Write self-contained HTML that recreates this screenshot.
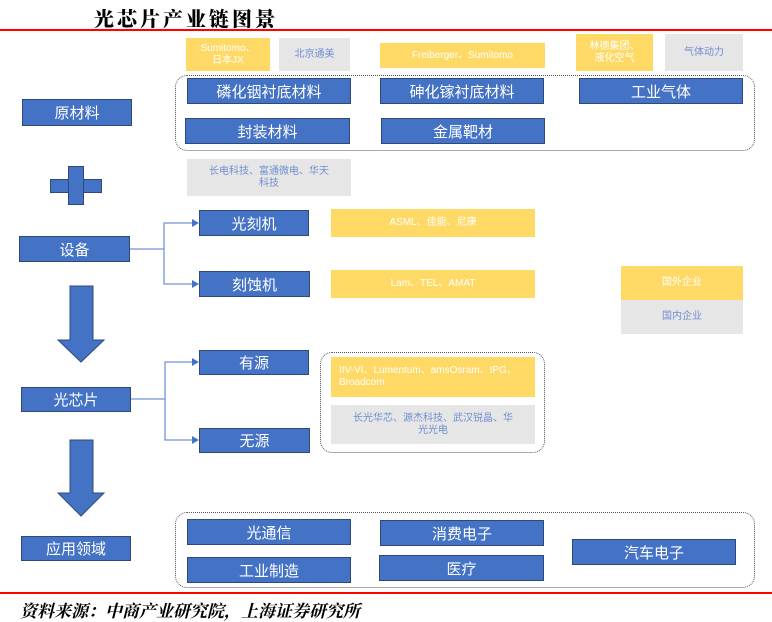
<!DOCTYPE html>
<html><head><meta charset="utf-8"><style>
body{margin:0;width:772px;height:622px;background:#fff;position:relative;overflow:hidden;font-family:"Liberation Sans","Noto Sans CJK SC",sans-serif}
.a{position:absolute;box-sizing:border-box;display:flex;align-items:center;justify-content:center;text-align:center}
.b{background:#4472C4;border:1.5px solid #2F4A7A;color:#fff;font-size:15px}
.y{background:#FFD966;color:#fff;font-size:10px;line-height:12px}
.g{background:#E7E6E6;color:#6F8FD0;font-size:10px;line-height:12px}
.d{position:absolute;box-sizing:border-box;border:1.5px dotted #555;border-radius:12px}
</style></head><body>
<div style="position:absolute;left:94px;top:3px;font-family:'Noto Serif CJK SC',serif;font-weight:900;font-size:20px;letter-spacing:3px">光芯片产业链图景</div>
<div style="position:absolute;left:0;top:29px;width:772px;height:2px;background:#f00"></div>
<div style="position:absolute;left:0;top:592px;width:772px;height:2px;background:#f00"></div>
<div style="position:absolute;left:20px;top:597px;font-family:'Noto Serif CJK SC',serif;font-weight:bold;font-style:italic;font-size:17px">资料来源：中商产业研究院，上海证券研究所</div>

<div class="d" style="left:175px;top:75px;width:580px;height:76px"></div>
<div class="d" style="left:320px;top:352px;width:225px;height:101px"></div>
<div class="d" style="left:175px;top:512px;width:580px;height:76px"></div>

<div class="a b" style="left:22px;top:99px;width:110px;height:27px">原材料</div>
<div class="a y" style="left:186px;top:38px;width:84px;height:33px">Sumitomo、<br>日本JX</div>
<div class="a g" style="left:279px;top:38px;width:71px;height:33px">北京通美</div>
<div class="a y" style="left:380px;top:43px;width:165px;height:25px">Freiberger、Sumitomo</div>
<div class="a y" style="left:576px;top:34px;width:77px;height:37px">林德集团、<br>液化空气</div>
<div class="a g" style="left:665px;top:34px;width:78px;height:37px">气体动力</div>
<div class="a b" style="left:187px;top:78px;width:164px;height:26px">磷化铟衬底材料</div>
<div class="a b" style="left:380px;top:78px;width:164px;height:26px">砷化镓衬底材料</div>
<div class="a b" style="left:579px;top:78px;width:164px;height:26px">工业气体</div>
<div class="a b" style="left:185px;top:118px;width:165px;height:26px">封装材料</div>
<div class="a b" style="left:381px;top:118px;width:164px;height:26px">金属靶材</div>
<div class="a g" style="left:187px;top:159px;width:164px;height:37px">长电科技、富通微电、华天<br>科技</div>

<div style="position:absolute;left:50px;top:179px;width:52px;height:14px;background:#4472C4;border:1px solid #2F4A7A;box-sizing:border-box"></div>
<div style="position:absolute;left:68px;top:166px;width:16px;height:39px;background:#4472C4;border:1px solid #2F4A7A;box-sizing:border-box"></div>
<div style="position:absolute;left:69px;top:180px;width:14px;height:12px;background:#4472C4"></div>

<div class="a b" style="left:19px;top:236px;width:111px;height:26px">设备</div>
<div class="a b" style="left:199px;top:210px;width:110px;height:26px">光刻机</div>
<div class="a b" style="left:199px;top:271px;width:111px;height:26px">刻蚀机</div>
<div class="a y" style="left:331px;top:209px;width:204px;height:28px">ASML、佳能、尼康</div>
<div class="a y" style="left:331px;top:270px;width:204px;height:28px">Lam、TEL、AMAT</div>
<div class="a y" style="left:621px;top:266px;width:122px;height:34px">国外企业</div>
<div class="a g" style="left:621px;top:300px;width:122px;height:34px">国内企业</div>

<div class="a b" style="left:21px;top:387px;width:110px;height:25px">光芯片</div>
<div class="a b" style="left:199px;top:350px;width:110px;height:25px">有源</div>
<div class="a b" style="left:199px;top:428px;width:111px;height:25px">无源</div>
<div class="a y" style="left:331px;top:357px;width:204px;height:40px;justify-content:flex-start;text-align:left;padding-left:8px">IIV-VI、Lumentum、amsOsram、IPG、<br>Broadcom</div>
<div class="a g" style="left:331px;top:405px;width:204px;height:39px">长光华芯、源杰科技、武汉锐晶、华<br>光光电</div>

<div class="a b" style="left:21px;top:536px;width:110px;height:25px">应用领域</div>
<div class="a b" style="left:187px;top:519px;width:164px;height:26px">光通信</div>
<div class="a b" style="left:380px;top:520px;width:164px;height:26px">消费电子</div>
<div class="a b" style="left:572px;top:539px;width:164px;height:26px">汽车电子</div>
<div class="a b" style="left:187px;top:557px;width:164px;height:26px">工业制造</div>
<div class="a b" style="left:379px;top:555px;width:165px;height:26px">医疗</div>

<svg width="772" height="622" style="position:absolute;left:0;top:0">
<g fill="none" stroke="#6F95D8" stroke-width="1.3">
<path d="M130 249H164V223H194M164 249V284H194"/>
<path d="M131 399H165V362H194M165 399V440H194"/>
</g>
<g fill="#4472C4">
<path d="M192 219L199 223L192 227Z"/><path d="M192 280L199 284L192 288Z"/>
<path d="M192 358L199 362L192 366Z"/><path d="M192 436L199 440L192 444Z"/>
</g>
<g fill="#4472C4" stroke="#2F4A7A" stroke-width="1">
<path d="M70 286H93V340H104L81 362L58 340H70Z"/>
<path d="M70 440H93V493H104L81 516L58 493H70Z"/>
</g>
</svg>
</body></html>
